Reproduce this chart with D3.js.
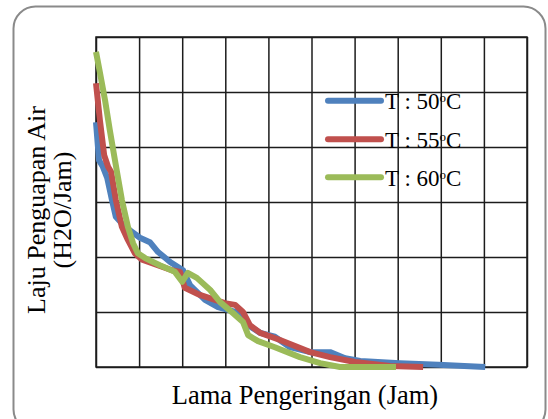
<!DOCTYPE html>
<html>
<head>
<meta charset="utf-8">
<script src="https://cdn.jsdelivr.net/npm/d3@7"></script>
<style>
  html, body { margin: 0; padding: 0; background: #fff; }
  svg { display: block; }
  text { font-family: "Liberation Serif", "Times New Roman", serif; fill: #000; }
</style>
</head>
<body>
<svg id="chart" width="548" height="419"></svg>
<script>
// Drying time (grid units along x) vs. water evaporation rate (grid units along y)
const seriesNames = ["T : 50", "T : 55", "T : 60"];
const seriesColors = ["#4f81bd", "#c0504d", "#9bbb59"];

const time50 = [0, 0.07, 0.16, 0.26, 0.37, 0.46, 0.67, 1.02, 1.25, 1.44, 1.72, 2.02, 2.18, 2.53, 2.83, 3.34, 3.53, 3.81, 4.15, 4.50, 4.97, 5.43, 5.78, 6.13, 7.05, 7.94, 9.03];
const rate50 = [4.45, 3.76, 3.64, 3.44, 3.04, 2.73, 2.55, 2.35, 2.27, 2.09, 1.91, 1.76, 1.49, 1.22, 1.09, 0.98, 0.76, 0.62, 0.55, 0.36, 0.27, 0.27, 0.16, 0.11, 0.07, 0.04, 0];

const time55 = [0, 0.09, 0.19, 0.28, 0.35, 0.46, 0.60, 0.74, 0.90, 1.07, 1.48, 1.76, 1.95, 2.06, 2.41, 2.99, 3.23, 3.41, 3.57, 3.81, 4.27, 4.97, 5.43, 6.01, 6.82, 7.59];
const rate55 = [5.16, 4.49, 3.85, 3.64, 3.55, 3.04, 2.55, 2.31, 2.07, 1.95, 1.84, 1.76, 1.73, 1.44, 1.31, 1.16, 1.13, 1.00, 0.76, 0.62, 0.49, 0.27, 0.18, 0.09, 0.02, 0];

const time60 = [0, 0.09, 0.21, 0.32, 0.44, 0.60, 0.74, 0.86, 0.97, 1.14, 1.48, 1.83, 2.00, 2.13, 2.34, 2.65, 2.88, 3.18, 3.41, 3.53, 3.76, 4.15, 4.73, 5.20, 5.66, 6.96];
const rate60 = [5.73, 5.36, 4.85, 4.31, 3.76, 3.04, 2.55, 2.25, 2.07, 1.98, 1.85, 1.73, 1.55, 1.71, 1.62, 1.40, 1.18, 0.98, 0.82, 0.58, 0.47, 0.36, 0.18, 0.07, 0, 0];

const xTicks = d3.range(0, 11);
const yTicks = d3.range(0, 7);

const xTitle = "Lama Pengeringan (Jam)";
const yTitleLines = ["Laju Penguapan Air", "(H2O/Jam)"];

const svg = d3.select("#chart");

// outer rounded frame
svg.append("rect")
  .attr("x", 13.5).attr("y", 6.5)
  .attr("width", 532).attr("height", 425)
  .attr("rx", 22).attr("ry", 22)
  .attr("fill", "#fff")
  .attr("stroke", "#8a8a8a")
  .attr("stroke-width", 2);

const plot = { left: 96, right: 527, top: 37, bottom: 367 };

const x = d3.scaleLinear().domain([0, 10]).range([plot.left, plot.right]);
const y = d3.scaleLinear().domain([0, 6]).range([plot.bottom, plot.top]);

// grid via axes
const gx = svg.append("g")
  .attr("transform", `translate(0,${plot.bottom})`)
  .call(d3.axisBottom(x).tickValues(xTicks).tickSize(-(plot.bottom - plot.top)).tickFormat(""));
const gy = svg.append("g")
  .attr("transform", `translate(${plot.left},0)`)
  .call(d3.axisLeft(y).tickValues(yTicks).tickSize(-(plot.right - plot.left)).tickFormat(""));
[gx, gy].forEach(g => {
  g.select(".domain").remove();
  g.selectAll(".tick line").attr("stroke", "#1c1c1c").attr("stroke-width", 1.5);
});

// plot border
svg.append("rect")
  .attr("x", plot.left).attr("y", plot.top)
  .attr("width", plot.right - plot.left).attr("height", plot.bottom - plot.top)
  .attr("fill", "none").attr("stroke", "#1c1c1c").attr("stroke-width", 1.5);

const series = [
  { name: seriesNames[0], color: seriesColors[0], pts: d3.zip(time50, rate50) },
  { name: seriesNames[1], color: seriesColors[1], pts: d3.zip(time55, rate55) },
  { name: seriesNames[2], color: seriesColors[2], pts: d3.zip(time60, rate60) }
];

const line = d3.line().x(d => x(d[0])).y(d => y(d[1]));

svg.append("g").selectAll("path")
  .data(series)
  .join("path")
  .attr("d", s => line(s.pts))
  .attr("fill", "none")
  .attr("stroke", s => s.color)
  .attr("stroke-width", 6)
  .attr("stroke-linejoin", "round")
  .attr("stroke-linecap", "butt");

// legend
const legend = svg.append("g");
const legendY = [100.7, 139.3, 177.3];
series.forEach((s, i) => {
  legend.append("line")
    .attr("x1", 328).attr("x2", 381)
    .attr("y1", legendY[i]).attr("y2", legendY[i])
    .attr("stroke", s.color).attr("stroke-width", 6)
    .attr("stroke-linecap", "round");
  const t = legend.append("text")
    .attr("x", 385).attr("y", legendY[i] + 8.6)
    .attr("font-size", 23);
  t.append("tspan").text(s.name);
  t.append("tspan").attr("font-size", 13).attr("dy", -7).text("o");
  t.append("tspan").attr("dy", 7).text("C");
});

// axis titles
svg.append("text")
  .attr("x", 305).attr("y", 404)
  .attr("text-anchor", "middle")
  .attr("font-size", 26.5)
  .text(xTitle);

const yt = svg.append("text")
  .attr("transform", "translate(45,210) rotate(-90)")
  .attr("text-anchor", "middle")
  .attr("font-size", 26);
yt.append("tspan").attr("x", 0).attr("y", 0).text(yTitleLines[0]);
yt.append("tspan").attr("x", 0).attr("y", 26).text(yTitleLines[1]);
</script>
</body>
</html>
